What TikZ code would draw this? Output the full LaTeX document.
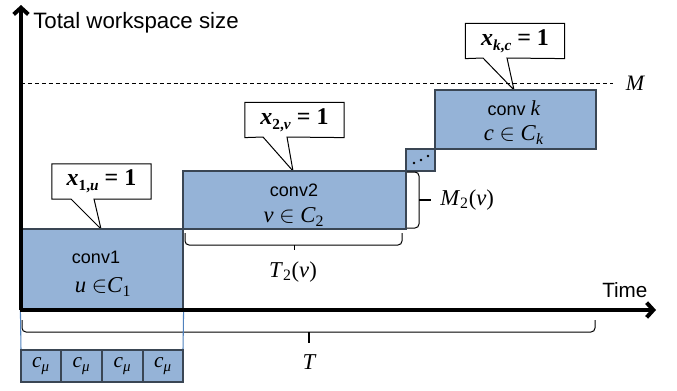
\documentclass[tikz,border=0pt]{standalone}
\usepackage{fontspec}
\setmainfont{Liberation Serif}
\setsansfont{Liberation Sans}
\usetikzlibrary{arrows.meta,fit,backgrounds}
\definecolor{boxblue}{HTML}{95B3D7}
\definecolor{edge}{HTML}{3A4654}
\definecolor{guide}{HTML}{4F81BD}
\newcommand\mi[1]{\textit{#1}}
\newcommand\lowsub[1]{\raisebox{-0.45ex}{\fontsize{11.5}{12}\selectfont #1}}
\tikzset{
  blk/.style={draw=edge, fill=boxblue, line width=0.9pt, inner sep=0pt},
  sans/.style={font=\sffamily\fontsize{13.5}{16}\selectfont, inner sep=0pt},
  ser/.style={font=\rmfamily\fontsize{17}{19}\selectfont, inner sep=0pt},
  calltxt/.style={font=\rmfamily\bfseries\fontsize{18}{20}\selectfont, inner sep=0pt, minimum width=74pt, minimum height=26pt},
  call/.style={draw=black, fill=white, line width=0.75pt},
  axisline/.style={line width=3pt, -{Straight Barb[length=5pt,width=11pt]}},
  brc/.style={draw=black, line width=0.75pt, rounded corners=3pt},
  guideline/.style={draw=guide, line width=0.8pt},
  cbox/.style={draw=edge, fill=boxblue, line width=0.9pt, inner sep=0pt}
}
\begin{document}
\begin{tikzpicture}[x=0.75pt,y=-0.75pt]
\useasboundingbox (0,0) rectangle (677,390);

% boxes
\node[blk, fit={(21,229)(183,309)}] (conv1) {};
\node[blk, fit={(183,171)(406,229)}] (conv2) {};
\node[blk, fit={(406,149)(435,171)}] (dots) {};
\node[blk, fit={(435,90)(596,149)}] (convk) {};

\node[sans] (t1a) at (96,257) {conv1};
\node[ser] (t1b) at (103,287) {\mi{u} $\in$\mi{C}\textsubscript{1}};
\node[sans] (t2a) at (294,190) {conv2};
\node[ser] (t2b) at (294,217) {\mi{v} $\in$ \mi{C}\textsubscript{2}};
\node[sans] (tka) at (514,108) {conv {\rmfamily\fontsize{16}{18}\selectfont\mi{k}}};
\node[ser] (tkb) at (514,135) {\mi{c} $\in$ \mi{C}\textsubscript{\mi{k}}};

\fill (414,163) circle (1.3) (421,160) circle (1.3) (428,156) circle (1.3);

% dashed limit
\coordinate (mL) at (21,83);
\coordinate (mR) at (613,83);
\draw[dash pattern=on 3pt off 2.2pt, line width=0.6pt] (mL) -- (mR);
\node[ser, font=\rmfamily\itshape\fontsize{16.5}{18}\selectfont] (Mlab) at (635,83) {M};

% callouts
\coordinate (p1) at (101,229);
\coordinate (p2) at (293,171);
\coordinate (p3) at (514,90);
\node[calltxt] (cb1) at (101.5,181.5) {\mi{x}\lowsub{1,\mi{u}} = 1};
\node[calltxt] (cb2) at (294.5,120) {\mi{x}\lowsub{2,\mi{v}} = 1};
\node[calltxt] (cb3) at (515,41) {\mi{x}\lowsub{\mi{k},\mi{c}} = 1};
\begin{scope}[on background layer]
\draw[call] (cb1.north west) -- (cb1.north east) -- (cb1.south east) -- (94,199) -- (p1) -- (71,199) -- (cb1.south west) -- cycle;
\draw[call] (cb2.north west) -- (cb2.north east) -- (cb2.south east) -- (287,137) -- (p2) -- (263,137) -- (cb2.south west) -- cycle;
\draw[call] (cb3.north west) -- (cb3.north east) -- (cb3.south east) -- (507,58) -- (p3) -- (483,58) -- (cb3.south west) -- cycle;
\end{scope}

% braces
\draw[brc] (185,233) -- (185,245) -- (402,245) -- (402,233);
\draw[line width=1.2pt] (294.5,245) -- (294.5,250);
\node[ser] (T2lab) at (293,272) {\mi{T}\textsubscript{2}(\mi{v})};

\draw[brc] (407,172) -- (419,172) -- (419,228) -- (407,228);
\draw[line width=1.2pt] (419,200) -- (431,200);
\node[ser, anchor=west] (M2lab) at (440,200) {\mi{M}\textsubscript{2}(\mi{v})};

\draw[brc] (22,320) -- (22,332) -- (595,332) -- (595,320);
\draw[line width=1.4pt] (309,332) -- (309,343);
\node[ser, font=\rmfamily\itshape\fontsize{17}{19}\selectfont] (Tlab) at (309,362) {T};

% guide lines and c_mu boxes
\draw[guideline] (conv1.south west) -- (21,350);
\draw[guideline] (conv1.south east) -- (183,350);
\foreach \a/\b [count=\i] in {21/61,61/102,102/143,143/183}{
  \node[cbox, fit={(\a,350)(\b,382)}] (cm\i) {};
  \node[ser, font=\rmfamily\fontsize{16}{18}\selectfont] at (cm\i.center) {\mi{c}\textsubscript{\mi{μ}}};
}

% axes
\coordinate (O) at (21,310);
\coordinate (Ytop) at (21,5);
\coordinate (Xend) at (656,310);
\draw[axisline] (19.5,310) -- (Xend);
\draw[axisline] (O) -- (Ytop);
\node[sans, font=\sffamily\fontsize{16.7}{18}\selectfont, anchor=base west] (ylab) at (33,28) {Total workspace size};
\node[sans, font=\sffamily\fontsize{15.5}{18}\selectfont, anchor=base west] (xlab) at (602,297) {Time};
\end{tikzpicture}
\end{document}
